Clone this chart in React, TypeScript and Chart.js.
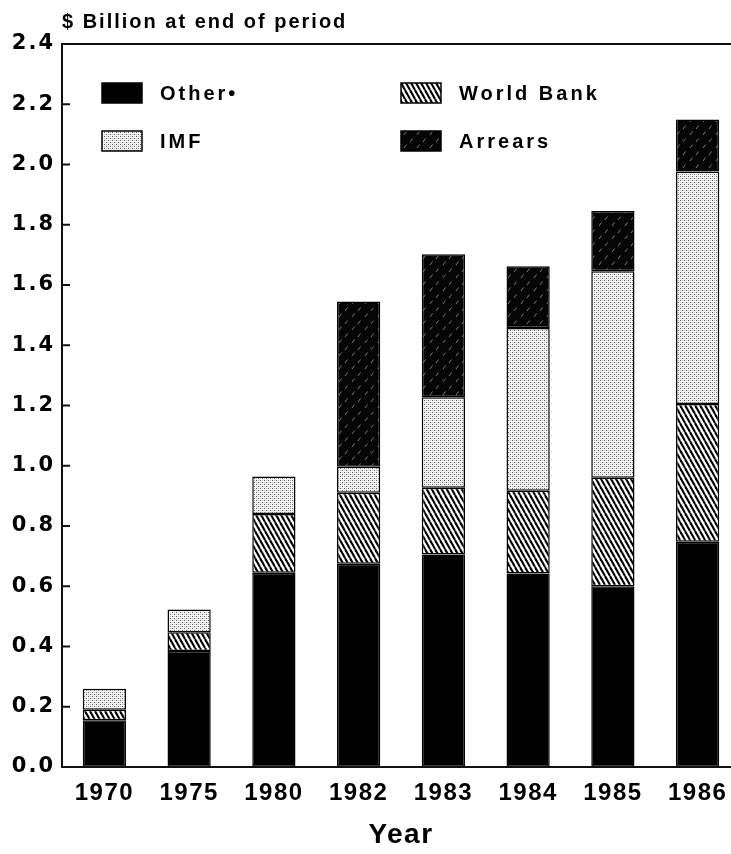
import React, { useEffect, useRef } from "react";
import { Chart, registerables } from "chart.js";

Chart.register(...registerables);

// ---- data ----
const years = ["1970", "1975", "1980", "1982", "1983", "1984", "1985", "1986"];
const other = [0.155, 0.385, 0.645, 0.675, 0.705, 0.642, 0.6, 0.748];
const worldBank = [0.035, 0.062, 0.195, 0.235, 0.222, 0.275, 0.36, 0.457];
const imf = [0.07, 0.076, 0.124, 0.087, 0.3, 0.54, 0.686, 0.772];
const arrears = [0, 0, 0, 0.548, 0.475, 0.205, 0.2, 0.172];
const seriesLabels = ["Other\u2022", "World Bank", "IMF", "Arrears"];
const yMax = 2.4;
const yStep = 0.2;
const titleText = "$ Billion at end of period";
const xTitleText = "Year";

const FONT = "'Liberation Sans', Arial, Helvetica, sans-serif";
const YFONT = "'DejaVu Sans', 'Liberation Sans', sans-serif";

function makePattern(kind: string): CanvasPattern | string {
  const c = document.createElement("canvas");
  const g = c.getContext("2d");
  if (!g) return "#888";
  if (kind === "wb") {
    c.width = 5;
    c.height = 9;
    g.fillStyle = "#fff";
    g.fillRect(0, 0, 5, 9);
    g.strokeStyle = "#000";
    g.lineWidth = 2.1;
    for (const dx of [-5, 0, 5]) {
      g.beginPath();
      g.moveTo(dx, 0);
      g.lineTo(dx + 5, 9);
      g.stroke();
    }
  } else if (kind === "imf") {
    c.width = 4;
    c.height = 4;
    g.fillStyle = "#f6f6f6";
    g.fillRect(0, 0, 4, 4);
    g.fillStyle = "#5a5a5a";
    g.fillRect(0, 0, 1, 1);
    g.fillRect(2, 2, 1, 1);
    g.fillStyle = "#c0c0c0";
    g.fillRect(2, 0, 1, 1);
    g.fillRect(0, 2, 1, 1);
  } else {
    c.width = 13;
    c.height = 13;
    g.fillStyle = "#050505";
    g.fillRect(0, 0, 13, 13);
    g.strokeStyle = "#9a9a9a";
    g.lineWidth = 0.8;
    g.beginPath();
    g.moveTo(1, 5);
    g.lineTo(3.5, 1.5);
    g.moveTo(7, 12);
    g.lineTo(9.5, 8.5);
    g.stroke();
  }
  const p = g.createPattern(c, "repeat");
  return p || "#888";
}

export default function App() {
  const ref = useRef<HTMLCanvasElement | null>(null);

  useEffect(() => {
    const canvas = ref.current;
    if (!canvas) return;
    document.body.style.margin = "0";

    const fills = ["#000000", makePattern("wb"), makePattern("imf"), makePattern("arr")];
    const values = [other, worldBank, imf, arrears];

    const decor = {
      id: "decor",
      beforeDraw(chart: any) {
        chart.ctx.letterSpacing = "2px";
      },
      afterDatasetsDraw(chart: any) {
        chart.ctx.letterSpacing = "1.5px";
      },
      afterDraw(chart: any) {
        const ctx = chart.ctx as CanvasRenderingContext2D;
        const a = chart.chartArea;
        ctx.save();
        // top frame line
        ctx.strokeStyle = "#111";
        ctx.lineWidth = 2;
        ctx.beginPath();
        ctx.moveTo(a.left, a.top);
        ctx.lineTo(a.right, a.top);
        ctx.stroke();
        // inward y ticks
        const ys = chart.scales.y;
        ys.ticks.forEach((t: any) => {
          const py = ys.getPixelForValue(t.value);
          ctx.beginPath();
          ctx.moveTo(a.left, py);
          ctx.lineTo(a.left + 8, py);
          ctx.stroke();
        });
        // title
        (ctx as any).letterSpacing = "2px";
        ctx.fillStyle = "#000";
        ctx.font = `bold 20px ${FONT}`;
        ctx.textAlign = "left";
        ctx.textBaseline = "alphabetic";
        ctx.fillText(titleText, a.left, 28);
        // legend
        (ctx as any).letterSpacing = "3px";
        ctx.font = `bold 20px ${FONT}`;
        ctx.textBaseline = "middle";
        seriesLabels.forEach((lab, i) => {
          const col = i % 2;
          const row = Math.floor(i / 2);
          const bx = a.left + 40 + col * 299;
          const by = a.top + 39 + row * 48;
          ctx.fillStyle = fills[i] as any;
          ctx.fillRect(bx, by, 40, 20);
          ctx.strokeStyle = "#000";
          ctx.lineWidth = 1.5;
          ctx.strokeRect(bx, by, 40, 20);
          ctx.fillStyle = "#000";
          ctx.fillText(lab, bx + 58, by + 11);
        });
        ctx.restore();
      },
    };

    const chart = new Chart(canvas, {
      type: "bar",
      data: {
        labels: years,
        datasets: seriesLabels.map((lab, i) => ({
          label: lab,
          data: values[i],
          backgroundColor: fills[i] as any,
          borderColor: "#000",
          borderWidth: 1.5,
          borderSkipped: false,
          barPercentage: 0.51,
          categoryPercentage: 1.0,
        })),
      },
      options: {
        responsive: false,
        animation: false,
        devicePixelRatio: 1,
        layout: { padding: { left: 0, right: 6, top: 44, bottom: 0 } },
        plugins: {
          legend: { display: false },
          title: { display: false },
          tooltip: { enabled: false },
        },
        scales: {
          x: {
            stacked: true,
            grid: { display: false, drawTicks: false, z: 1 },
            border: { display: true, color: "#111", width: 2, z: 1 },
            ticks: {
              color: "#000",
              font: { family: FONT, size: 24, weight: "bold" },
              padding: 12,
              z: 1,
            },
            title: {
              display: true,
              text: xTitleText,
              color: "#000",
              font: { family: FONT, size: 28, weight: "bold" },
              padding: { top: 0, bottom: 2 },
            },
            afterFit(scale: any) {
              scale.height = 87;
            },
          },
          y: {
            stacked: true,
            min: 0,
            max: yMax,
            grid: { display: false, drawTicks: false },
            border: { display: true, color: "#111", width: 2 },
            ticks: {
              stepSize: yStep,
              color: "#000",
              font: { family: YFONT, size: 21, weight: "bold" },
              padding: 7,
              callback: (v: any) => Number(v).toFixed(1),
            },
            afterFit(scale: any) {
              scale.width = 62;
            },
          },
        },
      },
      plugins: [decor],
    });

    return () => chart.destroy();
  }, []);

  return (
    <div style={{ position: "fixed", left: 0, top: 0, width: 731, height: 854, overflow: "hidden", background: "#fff" }}>
      <canvas ref={ref} width={746} height={854} style={{ width: 746, height: 854, display: "block" }} />
    </div>
  );
}
